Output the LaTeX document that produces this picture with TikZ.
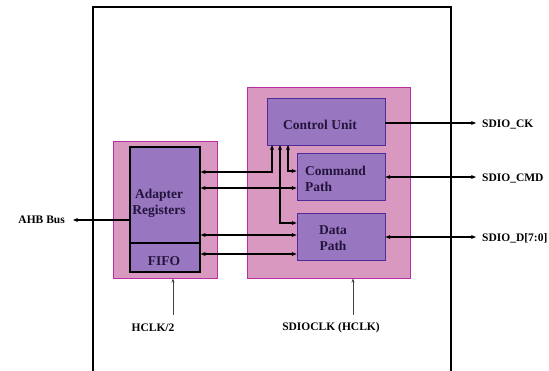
\documentclass[tikz,border=0pt]{standalone}
\usepackage{fontspec}
\setmainfont{Liberation Serif}
\usetikzlibrary{arrows.meta}
\definecolor{pinkfill}{RGB}{216,152,192}
\definecolor{pinkline}{RGB}{185,45,165}
\definecolor{purpfill}{RGB}{152,118,192}
\definecolor{purpline}{RGB}{80,45,150}
\definecolor{txt}{RGB}{35,20,60}
\tikzset{
  x=1pt, y=-1pt,
  lbl/.style={font=\fontsize{11.5}{13}\selectfont\bfseries, text=black, inner sep=0pt},
  btxt/.style={font=\fontsize{13.5}{16}\selectfont\bfseries, text=txt, inner sep=0pt},
  blk/.style={draw=purpline, line width=0.8pt, fill=purpfill, inner sep=0pt},
  adp/.style={draw=black, line width=1.3pt, fill=purpfill, inner sep=0pt},
  pinkbox/.style={draw=pinkline, line width=0.9pt, fill=pinkfill, inner sep=0pt},
  sig/.style={line width=1.2pt, draw=black, arrows={-Stealth[length=5pt,width=4pt]}},
  dsig/.style={line width=1.2pt, draw=black, arrows={Stealth[length=5pt,width=4pt]-Stealth[length=5pt,width=4pt]}},
  clk/.style={line width=0.6pt, draw=black!75, arrows={-Stealth[length=4pt,width=3pt]}}
}
\begin{document}
\begin{tikzpicture}
\useasboundingbox (0,0) rectangle (549,370);
% outer open box
\draw[line width=1.4pt] (93,372) -- (93,7) -- (451,7) -- (451,372);
% pink containers
\node[pinkbox, minimum width=104pt, minimum height=137pt] (lp) at (165,209.5) {};
\node[pinkbox, minimum width=163pt, minimum height=191pt] (rp) at (328.5,182.5) {};
% adapter and fifo
\node[adp, minimum width=70pt, minimum height=96pt] (adr) at (165,195) {};
\node[adp, minimum width=70pt, minimum height=29pt] (fifo) at (165,257.5) {};
\node[btxt, align=center] (adrt) at (159,203) {Adapter\\Registers};
\node[btxt] (fifot) at (164,261) {FIFO};
% right blocks
\node[blk, minimum width=118pt, minimum height=47pt] (cu) at (326,121.5) {};
\node[blk, minimum width=88pt, minimum height=47pt] (cmd) at (341,176.5) {};
\node[blk, minimum width=88pt, minimum height=47pt] (dp) at (341,236.5) {};
\node[btxt] (cut) at (320,125) {Control Unit};
\node[btxt, align=left, anchor=west] (cmdt) at (305,179) {Command\\Path};
\node[btxt, align=center] (dpt) at (333,238) {Data\\Path};
% external labels
\node[lbl, anchor=west] (ck) at (482,124) {SDIO\_CK};
\node[lbl, anchor=west] (cmdl) at (482,178) {SDIO\_CMD};
\node[lbl, anchor=west] (dl) at (482,238) {SDIO\_D[7:0]};
\node[lbl, anchor=east] (ahb) at (65,220) {AHB Bus};
\node[lbl] (hclk) at (153,328) {HCLK/2};
\node[lbl] (sdclk) at (331,328) {SDIOCLK (HCLK)};
\coordinate (ckend) at (476,123);
\coordinate (cmdend) at (476,177);
\coordinate (dend) at (476,237);
\coordinate (ahbend) at (73,220);
% right signals
\draw[sig] (cu.east |- ckend) -- (ckend);
\draw[dsig] (cmd.east |- cmdend) -- (cmdend);
\draw[dsig] (dp.east |- dend) -- (dend);
% AHB
\draw[sig] (adr.west |- ahbend) -- (ahbend);
% internal connections
\draw[dsig] (adr.east |- 0,172) -- (272,172) -- (272,145);
\draw[dsig] (adr.east |- 0,188) -- (cmd.west |- 0,188);
\draw[dsig] (adr.east |- 0,235) -- (dp.west |- 0,235);
\draw[dsig] (fifo.east |- 0,254) -- (dp.west |- 0,254);
\draw[dsig] (280,145) -- (280,223) -- (dp.west |- 0,223);
\draw[dsig] (288,145) -- (288,171) -- (cmd.west |- 0,171);
% clocks
\draw[clk] (173,315) -- (173,278.5);
\draw[clk] (353,315) -- (353,278.5);
\end{tikzpicture}
\end{document}
